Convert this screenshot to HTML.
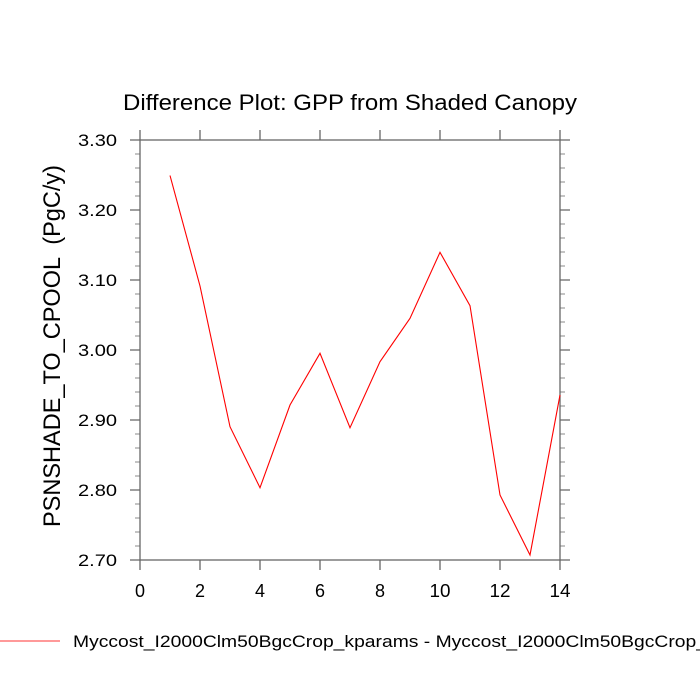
<!DOCTYPE html>
<html>
<head>
<meta charset="utf-8">
<style>
html,body{margin:0;padding:0;background:#fff;}
svg{display:block;}
text{font-family:"Liberation Sans",Arial,sans-serif;fill:#000;}
</style>
</head>
<body>
<svg width="700" height="700" viewBox="0 0 700 700" xmlns="http://www.w3.org/2000/svg">
<rect width="700" height="700" fill="#fff"/>
<!-- title -->
<text x="350" y="110" font-size="22" text-anchor="middle" textLength="454" lengthAdjust="spacingAndGlyphs">Difference Plot: GPP from Shaded Canopy</text>

<!-- minor ticks y (left & right) -->
<g stroke="#888" stroke-width="1">
<path d="M135 154H140M135 168H140M135 182H140M135 196H140
M135 224H140M135 238H140M135 252H140M135 266H140
M135 294H140M135 308H140M135 322H140M135 336H140
M135 364H140M135 378H140M135 392H140M135 406H140
M135 434H140M135 448H140M135 462H140M135 476H140
M135 504H140M135 518H140M135 532H140M135 546H140"/>
<path d="M560 154H565M560 168H565M560 182H565M560 196H565
M560 224H565M560 238H565M560 252H565M560 266H565
M560 294H565M560 308H565M560 322H565M560 336H565
M560 364H565M560 378H565M560 392H565M560 406H565
M560 434H565M560 448H565M560 462H565M560 476H565
M560 504H565M560 518H565M560 532H565M560 546H565"/>
</g>
<!-- major ticks -->
<g stroke="#666" stroke-width="1.3">
<path d="M130 140H140M130 210H140M130 280H140M130 350H140M130 420H140M130 490H140M130 560H140"/>
<path d="M560 140H570M560 210H570M560 280H570M560 350H570M560 420H570M560 490H570M560 560H570"/>
<path d="M140 130V140M200 130V140M260 130V140M320 130V140M380 130V140M440 130V140M500 130V140M560 130V140"/>
<path d="M140 560V570M200 560V570M260 560V570M320 560V570M380 560V570M440 560V570M500 560V570M560 560V570"/>
</g>
<!-- frame -->
<rect x="140" y="140" width="420" height="420" fill="none" stroke="#666" stroke-width="1.3"/>

<!-- y tick labels -->
<g font-size="17" text-anchor="end">
<text x="117" y="146" textLength="39" lengthAdjust="spacingAndGlyphs">3.30</text>
<text x="117" y="216" textLength="39" lengthAdjust="spacingAndGlyphs">3.20</text>
<text x="117" y="286" textLength="39" lengthAdjust="spacingAndGlyphs">3.10</text>
<text x="117" y="356" textLength="39" lengthAdjust="spacingAndGlyphs">3.00</text>
<text x="117" y="426" textLength="39" lengthAdjust="spacingAndGlyphs">2.90</text>
<text x="117" y="496" textLength="39" lengthAdjust="spacingAndGlyphs">2.80</text>
<text x="117" y="566" textLength="39" lengthAdjust="spacingAndGlyphs">2.70</text>
</g>
<!-- x tick labels -->
<g font-size="18" text-anchor="middle">
<text x="140" y="597">0</text>
<text x="200" y="597">2</text>
<text x="260" y="597">4</text>
<text x="320" y="597">6</text>
<text x="380" y="597">8</text>
<text x="440" y="597" textLength="21" lengthAdjust="spacingAndGlyphs">10</text>
<text x="500" y="597" textLength="21" lengthAdjust="spacingAndGlyphs">12</text>
<text x="560" y="597" textLength="21" lengthAdjust="spacingAndGlyphs">14</text>
</g>

<!-- y axis label -->
<text transform="translate(60,346) rotate(-90)" font-size="24" text-anchor="middle" textLength="362" lengthAdjust="spacingAndGlyphs" xml:space="preserve">PSNSHADE_TO_CPOOL  (PgC/y)</text>

<!-- data line -->
<polyline fill="none" stroke="#ff0000" stroke-width="1.1" stroke-linejoin="miter"
points="170,175.5 200,286 230,426.7 260,487.7 290,405 320,353.3 350,427.7 380,361.7 410,318.3 440,252.3 470,305.7 500,495 530,555 560,395"/>

<!-- legend -->
<line x1="0" y1="641" x2="60" y2="641" stroke="#ff3333" stroke-width="1.1"/>
<text x="73" y="647" font-size="17" textLength="634" lengthAdjust="spacingAndGlyphs">Myccost_I2000Clm50BgcCrop_kparams - Myccost_I2000Clm50BgcCrop_</text>
</svg>
</body>
</html>
